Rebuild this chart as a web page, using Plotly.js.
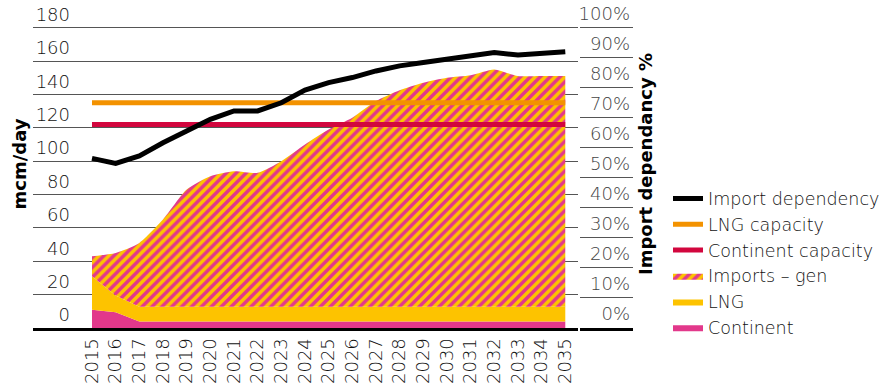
<!DOCTYPE html>
<html>
<head>
<meta charset="utf-8">
<script src="https://cdn.plot.ly/plotly-3.0.1.min.js"></script>
<style>html,body{margin:0;padding:0;background:#fff;}#chart{width:896px;height:385px;}</style>
</head>
<body>
<div id="chart"></div>
<script>
// ---- data ----
const years = [2015,2016,2017,2018,2019,2020,2021,2022,2023,2024,2025,2026,2027,2028,2029,2030,2031,2032,2033,2034,2035];
const yearLabels = ["2015","2016","2017","2018","2019","2020","2021","2022","2023","2024","2025","2026","2027","2028","2029","2030","2031","2032","2033","2034","2035"];
// mcm/day, stacked
const continent = [11,9.5,3.9,3.9,3.9,3.9,3.9,3.9,3.9,3.9,3.9,3.9,3.9,3.9,3.9,3.9,3.9,3.9,3.9,3.9,3.9];
const lng = [20,10,8.8,8.8,8.8,8.8,8.8,8.8,8.8,8.8,8.8,8.8,8.8,8.8,8.8,8.8,8.8,8.8,8.8,8.8,8.8];
const importsGen = [12,25.5,38.3,52.3,70.3,78.3,81.3,80.3,87.3,97.3,106.3,113.3,123.3,129.8,134.3,137.3,138.8,142.3,138.3,138.3,138.3];
// capacity lines, mcm/day
const lngCapacity = [135,135,135,135,135,135,135,135,135,135,135,135,135,135,135,135,135,135,135,135,135];
const continentCapacity = [122,122,122,122,122,122,122,122,122,122,122,122,122,122,122,122,122,122,122,122,122];
// import dependency, %
const importDependency = [56.5,54.8,57.3,61.7,65.6,69.5,72.3,72.3,75,79.2,81.7,83.4,85.6,87.3,88.4,89.5,90.6,91.7,90.9,91.4,92];

const PINK = '#e2388b', YELLOW = '#fdc300', ORANGE = '#f39200', RED = '#d2063e';

const traces = [
  {type:'scatter', mode:'lines', name:'Continent', x:years, y:continent, stackgroup:'s',
   line:{width:0, color:PINK}, fillcolor:PINK, hoverinfo:'skip'},
  {type:'scatter', mode:'lines', name:'LNG', x:years, y:lng, stackgroup:'s',
   line:{width:0, color:YELLOW}, fillcolor:YELLOW, hoverinfo:'skip'},
  {type:'scatter', mode:'lines', name:'Imports – gen', x:years, y:importsGen, stackgroup:'s',
   line:{width:0, color:YELLOW, shape:'spline', smoothing:0.6}, fillcolor:YELLOW,
   fillpattern:{shape:'/', fgcolor:PINK, bgcolor:YELLOW, size:7, solidity:0.5, fillmode:'replace'},
   hoverinfo:'skip'},
  {type:'scatter', mode:'lines', name:'Continent capacity', x:years, y:continentCapacity,
   line:{width:5, color:RED}, hoverinfo:'skip'},
  {type:'scatter', mode:'lines', name:'LNG capacity', x:years, y:lngCapacity,
   line:{width:5, color:ORANGE}, hoverinfo:'skip'},
  {type:'scatter', mode:'lines', name:'Import dependency', x:years, y:importDependency, yaxis:'y3',
   line:{width:5, color:'#000'}, hoverinfo:'skip'},
  {type:'scatter', mode:'lines', x:[], y:[], xaxis:'x2', yaxis:'y2', showlegend:false, hoverinfo:'skip'}
];

const W = 896, H = 385;
// plot bottom at 328 px, top at 0 px; 180 mcm/day and 100% sit at 27.7 px
const yDom = [(H-328)/H, 1];
const leftTop = 180*328/300.3;
const rightTop = 100*328/300.3;
const layout = {
  width:W, height:H,
  margin:{l:0, r:0, t:0, b:0, autoexpand:false},
  paper_bgcolor:'#fff', plot_bgcolor:'rgba(0,0,0,0)',
  font:{family:'"DejaVu Sans", sans-serif', size:18, color:'#111', weight:300},
  showlegend:true,
  legend:{x:668/W, xanchor:'left', y:(H-263)/H, yanchor:'middle', traceorder:'reversed',
          font:{size:17.5}, itemwidth:30, bgcolor:'rgba(0,0,0,0)', tracegroupgap:0},
  xaxis:{domain:[33/W, 578/W], range:[2012.507, 2035.537], anchor:'y',
         tickmode:'array', tickvals:years, ticktext:yearLabels, tickangle:-90,
         showline:true, linewidth:3, linecolor:'#000', showgrid:false, zeroline:false,
         ticks:'', automargin:false, fixedrange:true},
  yaxis:{domain:yDom, range:[0,leftTop], anchor:'x', tick0:0, dtick:20,
         showgrid:true, gridcolor:'#555', gridwidth:1, zeroline:false, showline:false,
         ticks:'', ticklabelposition:'outside', ticklabelstandoff:-38, ticklabelshift:-13,
         title:{text:'mcm/day', standoff:4, font:{size:18, weight:'bold', color:'#000'}},
         automargin:false, fixedrange:true},
  yaxis3:{overlaying:'y', anchor:'x', range:[0,rightTop], visible:false, fixedrange:true},
  xaxis2:{domain:[580/W, 633/W], anchor:'y2', range:[0,1], showline:true, linewidth:3,
          linecolor:'#000', showticklabels:false, showgrid:false, zeroline:false, ticks:'',
          fixedrange:true},
  yaxis2:{domain:yDom, anchor:'x2', side:'right', range:[0,rightTop], tick0:0, dtick:10,
          ticksuffix:'%', showgrid:true, gridcolor:'#555', gridwidth:1, zeroline:false,
          showline:false, ticks:'', ticklabelposition:'inside', ticklabelshift:-14,
          title:{text:'Import dependancy %', font:{size:18, weight:'bold', color:'#000'}},
          automargin:false, fixedrange:true}
};

Plotly.newPlot('chart', traces, layout, {staticPlot:true, displayModeBar:false});
</script>
</body>
</html>
